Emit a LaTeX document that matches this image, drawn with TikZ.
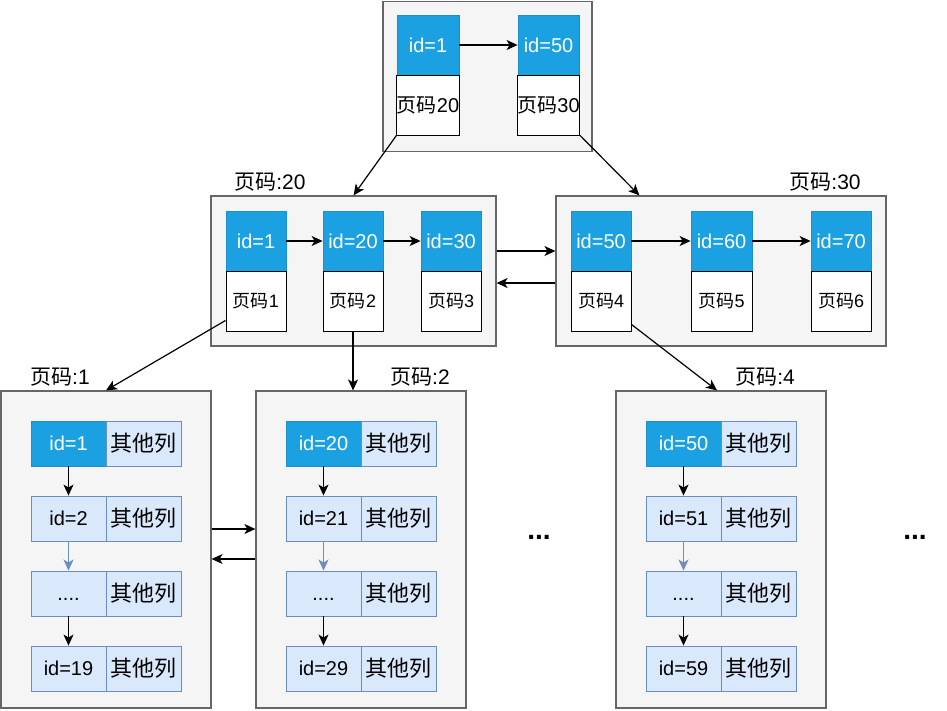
\documentclass[tikz,border=0pt]{standalone}
\usepackage{fontspec}
\setmainfont{Liberation Sans}
\newfontfamily\cjk{Noto Sans CJK SC}
\usetikzlibrary{arrows.meta,calc}
\definecolor{cellblue}{HTML}{1BA1E2}
\definecolor{cellbluedraw}{HTML}{1C8FCB}
\definecolor{lightfill}{HTML}{DAE8FC}
\definecolor{lightdraw}{HTML}{6C8EBF}
\definecolor{boxfill}{HTML}{F5F5F5}
\definecolor{boxdraw}{HTML}{666666}
\newcommand\YM{{\cjk 页码}}
\newcommand\QT{{\cjk\fontsize{22}{26}\selectfont 其他列}}
\newcommand\leafpage[6]{%
  \node[pagebox, minimum width=210pt, minimum height=317pt] (#1) at (#2+105,549.5) {};
  \node[bcell, minimum width=75pt, minimum height=45pt] (#1a) at (#2+67.5,443.5) {id=#3};
  \node[lcell, minimum width=75pt, minimum height=45pt] (#1ar) at (#2+142.5,443.5) {\QT};
  \node[lcell, minimum width=75pt, minimum height=45pt] (#1b) at (#2+67.5,518.5) {id=#4};
  \node[lcell, minimum width=75pt, minimum height=45pt] (#1br) at (#2+142.5,518.5) {\QT};
  \node[lcell, minimum width=75pt, minimum height=45pt] (#1c) at (#2+67.5,593.5) {\vphantom{Id}#5};
  \node[lcell, minimum width=75pt, minimum height=45pt] (#1cr) at (#2+142.5,593.5) {\QT};
  \node[lcell, minimum width=75pt, minimum height=45pt] (#1d) at (#2+67.5,668.5) {id=#6};
  \node[lcell, minimum width=75pt, minimum height=45pt] (#1dr) at (#2+142.5,668.5) {\QT};
  \draw[arr] (#1a.south) -- (#1b.north);
  \draw[larr] (#1b.south) -- (#1c.north);
  \draw[arr] (#1c.south) -- (#1d.north);
}
\begin{document}
\begin{tikzpicture}[x=1pt,y=-1pt,
  every node/.style={inner sep=0pt, font=\fontsize{20}{24}\selectfont},
  pagebox/.style={draw=boxdraw, fill=boxfill, line width=1.2pt},
  bcell/.style={draw=cellbluedraw, fill=cellblue, text=white, line width=0.8pt},
  wcell/.style={draw=black, fill=white, line width=0.9pt},
  mcell/.style={wcell, font=\fontsize{18}{22}\selectfont},
  lcell/.style={draw=lightdraw, fill=lightfill, line width=0.9pt},
  plabel/.style={font=\fontsize{21}{25}\selectfont},
  ellip/.style={font=\fontsize{28}{30}\selectfont\bfseries},
  arr/.style={draw=black, line width=1.2pt, -{Stealth[length=11pt,width=10pt,inset=3pt]}},
  larr/.style={draw=lightdraw, line width=1.2pt, -{Stealth[length=11pt,width=10pt,inset=3pt]}}
]
\fill[white] (0,0) rectangle (947,710);
\useasboundingbox (0,0) rectangle (947,710);

% root page
\node[pagebox, minimum width=209pt, minimum height=150pt] (root) at (487.5,76.5) {};
\node[bcell, minimum width=62pt, minimum height=60pt] (t1) at (428,45) {id=1};
\node[wcell, minimum width=62pt, minimum height=60pt] (tw1) at (428,105) {\YM20};
\node[bcell, minimum width=61pt, minimum height=60pt] (t2) at (548.5,45) {id=50};
\node[wcell, minimum width=61pt, minimum height=60pt] (tw2) at (548.5,105) {\YM30};

% middle left page
\node[pagebox, minimum width=285pt, minimum height=150pt] (ml) at (353.5,271) {};
\node[bcell, minimum width=60pt, minimum height=60pt] (ml1) at (256,241) {id=1};
\node[mcell, minimum width=60pt, minimum height=60pt] (mlw1) at (256,301) {\YM1};
\node[bcell, minimum width=60pt, minimum height=60pt] (ml2) at (353,241) {id=20};
\node[mcell, minimum width=60pt, minimum height=60pt] (mlw2) at (353,301) {\YM2};
\node[bcell, minimum width=60pt, minimum height=60pt] (ml3) at (451,241) {id=30};
\node[mcell, minimum width=60pt, minimum height=60pt] (mlw3) at (451,301) {\YM3};
\node[plabel] (lml) at (270,182) {\YM:20};

% middle right page
\node[pagebox, minimum width=330pt, minimum height=150pt] (mr) at (721,271) {};
\node[bcell, minimum width=60pt, minimum height=60pt] (mr1) at (601,241) {id=50};
\node[mcell, minimum width=60pt, minimum height=60pt] (mrw1) at (601,301) {\YM4};
\node[bcell, minimum width=61pt, minimum height=60pt] (mr2) at (721.5,241) {id=60};
\node[mcell, minimum width=61pt, minimum height=60pt] (mrw2) at (721.5,301) {\YM5};
\node[bcell, minimum width=60pt, minimum height=60pt] (mr3) at (841,241) {id=70};
\node[mcell, minimum width=60pt, minimum height=60pt] (mrw3) at (841,301) {\YM6};
\node[plabel] (lmr) at (825,182) {\YM:30};

% leaf pages
\leafpage{b1}{1}{1}{2}{....}{19}
\leafpage{b2}{256}{20}{21}{....}{29}
\leafpage{b3}{616}{50}{51}{....}{59}
\node[plabel] (lb1) at (60,377) {\YM:1};
\node[plabel] (lb2) at (420,377) {\YM:2};
\node[plabel] (lb3) at (765,377) {\YM:4};

\node[ellip] (dots1) at (539,537) {...};
\node[ellip] (dots2) at (915,537) {...};

% connectors
\draw[arr] (t1) -- (t2);
\draw[arr] (tw1.south west) -- (ml.north);
\draw[arr] (tw2.south east) -- ($(mr.north west)+(84,0)$);
\draw[arr] (ml1) -- (ml2);
\draw[arr] (ml2) -- (ml3);
\draw[arr] (mr1) -- (mr2);
\draw[arr] (mr2) -- (mr3);
\draw[arr] ($(ml.east)+(0,-20)$) -- ($(mr.west)+(0,-20)$);
\draw[arr] ($(mr.west)+(0,12)$) -- ($(ml.east)+(0,12)$);
\draw[arr] ($(mlw1.south west)+(0,-11)$) -- (b1.north);
\draw[arr] (mlw2.south) -- (mlw2.south |- b2.north);
\draw[arr] ($(mrw1.south east)+(0,-7)$) -- ($(b3.north)+(-4,0)$);
\draw[arr] ($(b1.east)+(0,-20.5)$) -- ($(b2.west)+(0,-20.5)$);
\draw[arr] ($(b2.west)+(0,9.5)$) -- ($(b1.east)+(0,9.5)$);
\end{tikzpicture}
\end{document}
